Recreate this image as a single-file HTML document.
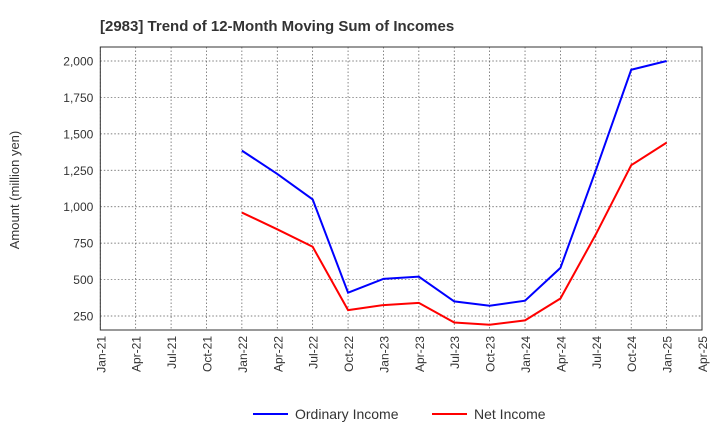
<!DOCTYPE html>
<html><head><meta charset="utf-8"><style>
body{margin:0;background:#fff;font-family:"Liberation Sans",sans-serif;}
</style></head><body>
<svg id="chart" width="720" height="440" xmlns="http://www.w3.org/2000/svg" font-family="Liberation Sans, sans-serif">
<text x="100" y="31" font-size="15" font-weight="bold" fill="#333">[2983]  Trend of 12-Month Moving Sum of Incomes</text>
<g id="grid"></g><g id="axes"></g><g id="series"></g>
<text transform="translate(19,190) rotate(-90)" text-anchor="middle" font-size="13" fill="#333">Amount (million yen)</text>
<g>
<line x1="253" y1="414" x2="288" y2="414" stroke="#0000ff" stroke-width="2"/>
<text x="295" y="419" font-size="14" fill="#333">Ordinary Income</text>
<line x1="432" y1="414" x2="467" y2="414" stroke="#ff0000" stroke-width="2"/>
<text x="474" y="419" font-size="14" fill="#333">Net Income</text>
</g>
</svg>
<script>
const xLabels=["Jan-21","Apr-21","Jul-21","Oct-21","Jan-22","Apr-22","Jul-22","Oct-22","Jan-23","Apr-23","Jul-23","Oct-23","Jan-24","Apr-24","Jul-24","Oct-24","Jan-25","Apr-25"];
const yTicks=[250,500,750,1000,1250,1500,1750,2000];
const dataStart=4;
const ordinaryIncome=[1385,1225,1050,410,505,520,350,320,355,580,1250,1940,2000];
const netIncome=[960,845,725,290,325,340,205,190,220,370,810,1285,1440];
const L=100.3,R=702,T=47,B=330;
const NS="http://www.w3.org/2000/svg";
function x(i){return L+i*(R-L)/(xLabels.length-1);}
function y(v){return 316-(v-250)*(255/1750);}
function mk(tag,attrs,parent){const e=document.createElementNS(NS,tag);for(const k in attrs)e.setAttribute(k,attrs[k]);parent.appendChild(e);return e;}
const grid=document.getElementById('grid'),axes=document.getElementById('axes'),series=document.getElementById('series');
xLabels.forEach((lab,i)=>{
 const g=mk('line',{x1:x(i),x2:x(i),y1:T,y2:B,stroke:'#555','stroke-width':0.7,'stroke-dasharray':'1.5,2'},grid);
 
 
 const t=mk('text',{transform:`translate(${x(i)+5},${B+6}) rotate(-90)`,'text-anchor':'end','font-size':12,fill:'#333'},axes);
 t.textContent=lab;
 
 
});
yTicks.forEach(v=>{
 const g=mk('line',{x1:L,x2:R,y1:y(v),y2:y(v),stroke:'#555','stroke-width':0.7,'stroke-dasharray':'1.5,2'},grid);
 
 
 const t=mk('text',{x:L-7,y:y(v)+4.5,'text-anchor':'end','font-size':12,fill:'#333'},axes);
 t.textContent=v.toLocaleString('en-US');
 
 
});
const frame=mk('rect',{x:L,y:T,width:R-L,height:B-T,fill:'none',stroke:'#333','stroke-width':1},axes);


function line(vals,color,name){
 const p=mk('polyline',{points:vals.map((v,i)=>x(dataStart+i)+','+y(v)).join(' '),fill:'none',stroke:color,'stroke-width':2},series);
 
 
}
line(ordinaryIncome,'#0000ff','ordinary-income-line');
line(netIncome,'#ff0000','net-income-line');
</script>
</body></html>
